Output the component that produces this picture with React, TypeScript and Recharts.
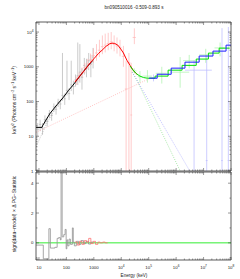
import type { ReactElement } from 'react'
import { ComposedChart, ErrorBar, Line, ReferenceLine, Scatter, XAxis, YAxis } from 'recharts'

const FONT = "'Liberation Sans Narrow', 'Liberation Sans', Arial, sans-serif"

// axis ranges
const X_DOMAIN = [7.8, 1e8]
const Y_DOMAIN = [1, 19500]
const R_DOMAIN = [-1.15, 4.75]

const X_MAJOR = [10, 100, 1000, 1e4, 1e5, 1e6, 1e7, 1e8]
const X_LABELS = ['10', '100', '1000', '10^4', '10^5', '10^6', '10^7', '10^8']
const Y_MAJOR = [1, 10, 100, 1000, 1e4]
const Y_LABELS = ['1', '10', '100', '1000', '10^4']
const R_MAJOR = [0, 2, 4]
const R_LABELS = ['0', '2', '4']
const R_MINOR = [-1, 1, 3]

// NaI data (keV, keV2 N(E))
const NAI_E = [9, 11, 13.5, 16.5, 20, 24, 29, 35, 42, 50, 60, 72, 87, 105, 125, 150, 180, 215, 260, 310, 370, 450, 540, 650, 780, 940]
const NAI_ELO = [8.2, 10, 12.2, 15, 18, 22, 26.5, 32, 38, 46, 55, 66, 80, 95, 115, 137, 165, 198, 235, 285, 340, 410, 490, 590, 710, 860]
const NAI_EHI = [10, 12.2, 15, 18, 22, 26.5, 32, 38, 46, 55, 66, 80, 95, 115, 137, 165, 198, 235, 285, 340, 410, 490, 590, 710, 860, 1000]
const NAI_V = [16, 22, 17, 30, 27, 45, 40, 70, 60, 95, 85, 150, 120, 210, 170, 300, 270, 420, 550, 700, 500, 1100, 1000, 1500, 1200, 1900]
const NAI_VLO = [10, 14, 11, 22, 19, 33, 28, 52, 42, 70, 60, 105, 80, 150, 110, 200, 160, 270, 300, 350, 220, 600, 500, 800, 500, 900]
const NAI_VHI = [24, 30, 24, 40, 36, 57, 52, 88, 78, 120, 115, 2500, 170, 1500, 240, 1500, 400, 600, 5000, 4500, 900, 1800, 1700, 2500, 2200, 3500]

// BGO data
const BGO_E = [230, 290, 370, 470, 600, 760, 970, 1250, 1600, 2050, 2600, 3350, 4300, 5500, 7000, 9000, 12000, 15000, 19000, 23000, 30000]
const BGO_ELO = [205, 260, 330, 420, 530, 680, 860, 1100, 1400, 1800, 2300, 2950, 3800, 4900, 6200, 8000, 10500, 13500, 16500, 21500, 26000]
const BGO_EHI = [260, 330, 420, 530, 680, 860, 1100, 1400, 1800, 2300, 2950, 3800, 4900, 6200, 8000, 10500, 13500, 16500, 21500, 25000, 34000]
const BGO_V = [400, 520, 700, 950, 1200, 1600, 2100, 2500, 3000, 3800, 4200, 4700, 5200, 4400, 4000, 3500, 2000, 230, 1300, 41, 7000]
const BGO_VLO = [300, 380, 500, 650, 850, 1100, 1300, 1500, 1900, 2300, 2600, 3000, 3200, 2800, 2400, 2000, 1000, 1.01, 1.01, 1.01, 4500]
const BGO_VHI = [520, 680, 950, 1300, 1700, 2400, 3400, 4500, 6000, 8000, 9000, 9500, 10000, 8000, 7000, 6000, 4000, 1500, 2500, 1300, 12800]

// LAT LLE data
const LLE_E = [30000, 48000, 90000, 300000, 1.4e6, 3e6, 1.2e7, 4e7]
const LLE_ELO = [26000, 40000, 60000, 180000, 6e5, 1.8e6, 7e6, 2.5e7]
const LLE_EHI = [36000, 56000, 130000, 450000, 3e6, 5e6, 2e7, 6e7]
const LLE_V = [760, 520, 540, 650, 700, 1500, 2200, 3500]
const LLE_VLO = [650, 350, 350, 330, 250, 900, 1300, 2000]
const LLE_VHI = [900, 750, 800, 1000, 1900, 2200, 3300, 5000]

// LAT data
const LAT_E = [150000, 4.5e6, 1.3e7, 4.7e7, 8e7]
const LAT_ELO = [110000, 2.1e6, 1.2e7, 4.4e7, 7.6e7]
const LAT_EHI = [200000, 2e7, 1.4e7, 5e7, 8.4e7]
const LAT_V = [480, 800, 2, 2, 2]
const LAT_VLO = [380, 1.01, 1.01, 1.01, 1.01]
const LAT_VHI = [600, 1550, 2200, 13000, 14000]

// folded models
const NAI_MODEL_E = [7.8, 12.9, 13.5, 25, 45, 75, 120, 174, 250, 400, 600, 900]
const NAI_MODEL_V = [18, 18, 20, 45, 80, 128, 210, 296, 430, 700, 1050, 1500]
const BGO_MODEL_E = [205, 300, 450, 725, 1000, 1500, 2000, 2800, 3800, 4600, 5800, 7500, 9100, 12000, 16000, 21000, 27000, 35000, 40000]
const BGO_MODEL_V = [365, 530, 780, 1280, 1700, 2450, 3000, 3900, 4600, 4800, 4700, 4200, 3450, 2500, 1550, 1100, 800, 640, 590]
const LLE_MODEL_E = [21000, 27000, 35000, 48000, 65000, 90000, 113000]
const LLE_MODEL_V = [1050, 800, 640, 540, 490, 470, 470]
const LLE_STEP_E = [113000, 171000, 510000, 1.65e6, 5.4e6, 1.5e7, 3.7e7, 9e7]
const LLE_STEP_V = [470, 540, 800, 1100, 1670, 2480, 3450, 3450]
const LAT_STEP_E = [102000, 204000, 660000, 2.1e6, 6.9e6, 2.2e7, 6.6e7, 1e8]
const LAT_STEP_V = [470, 610, 915, 1360, 2040, 2830, 4200, 4200]

// model components
const PL_E = [7.8, 113000]
const PL_V = [13, 470]
const BAND_LO_E = [7.8, 20, 50, 100]
const BAND_LO_V = [5, 25, 85, 170]
const BAND_HI_G_E = [25000, 37000, 1.5e6]
const BAND_HI_G_V = [700, 415, 0.9]
const BAND_HI_B_E = [25000, 37000, 3.4e6]
const BAND_HI_B_V = [700, 415, 0.9]

// residuals
const RES_NAI_E = [7.8, 14.4, 23, 26, 38, 46, 52, 60, 64, 70, 80, 90, 98, 104, 112, 125, 140, 165, 178, 195, 230, 280, 340, 420, 520, 640, 780, 950]
const RES_NAI_R = [-0.15, -1.07, 0.95, -0.35, -0.3, 0.3, 0.35, 0.2, 4.7, 0.4, 0.55, 0.9, -0.4, 0.2, -0.2, 0.25, -0.1, 1.0, 0.05, -0.2, 0.1, -0.1, 0.15, -0.05, 0.1, -0.08, 0.05, 0.05]
const RES_BGO_E = [205, 250, 300, 370, 450, 540, 650, 780, 950, 1150, 1400, 1700, 2100, 2600, 3200]
const RES_BGO_R = [0.05, -0.15, 0.1, -0.1, 0.15, 0.05, 0.3, -0.05, 0.1, -0.1, 0.05, 0, 0.05, 0, 0]

const toRows = (e: number[], v: number[]) => e.map((x, i) => ({ e: x, v: v[i] }))
const toPoints = (e: number[], elo: number[], ehi: number[], v: number[], vlo: number[], vhi: number[]) =>
	e.map((x, i) => ({ e: x, v: v[i], ex: [x - elo[i], ehi[i] - x], ey: [v[i] - vlo[i], vhi[i] - v[i]] }))

const logMinors = (lo: number, hi: number): number[] => {
	const out: number[] = []
	for (let k = Math.floor(Math.log10(lo)); k <= Math.ceil(Math.log10(hi)); k++) {
		for (let m = 2; m <= 9; m++) {
			const t = m * 10 ** k
			if (t > lo && t < hi) out.push(t)
		}
	}
	return out
}

const X_TICKS = [...X_MAJOR, ...logMinors(X_DOMAIN[0], X_DOMAIN[1])].sort((a, b) => a - b)
const Y_TICKS = [...Y_MAJOR, ...logMinors(Y_DOMAIN[0], Y_DOMAIN[1])].sort((a, b) => a - b)
const R_TICKS = [...R_MAJOR, ...R_MINOR].sort((a, b) => a - b)

const tickText = (label: string, x: number, y: number, anchor: 'middle' | 'end') => {
	const [base, exp] = label.split('^')
	return (
		<text x={x} y={y} textAnchor={anchor} fontSize={4.4} fontFamily={FONT} fill='#222'>
			{base}
			{exp ? <tspan dy={-1.8} fontSize={3.2}>{exp}</tspan> : null}
		</text>
	)
}

const makeXTick = (inward: 1 | -1, majors: number[], labels: string[] | null) =>
	(props: any): ReactElement => {
		const { x, y, payload } = props
		const i = majors.indexOf(payload.value)
		const len = i >= 0 ? 3 : 1.5
		return (
			<g>
				<line x1={x} x2={x} y1={y} y2={y + inward * len} stroke='#333' strokeWidth={0.5} />
				{labels && i >= 0 ? tickText(labels[i], x, y + 8.5, 'middle') : null}
			</g>
		)
	}

const makeYTick = (inward: 1 | -1, majors: number[], labels: string[] | null) =>
	(props: any): ReactElement => {
		const { x, y, payload } = props
		const i = majors.indexOf(payload.value)
		const len = i >= 0 ? 3 : 1.5
		return (
			<g>
				<line x1={x} x2={x + inward * len} y1={y} y2={y} stroke='#333' strokeWidth={0.5} />
				{labels && i >= 0 ? tickText(labels[i], x - 2.5, y + 1.6, 'end') : null}
			</g>
		)
	}

const noShape = (): ReactElement => <g />

const axisLine = { stroke: '#333', strokeWidth: 0.8 }

const dataSeries = [
	{ rows: toPoints(NAI_E, NAI_ELO, NAI_EHI, NAI_V, NAI_VLO, NAI_VHI), color: '#b4b4b4' },
	{ rows: toPoints(BGO_E, BGO_ELO, BGO_EHI, BGO_V, BGO_VLO, BGO_VHI), color: '#ffb4b4' },
	{ rows: toPoints(LLE_E, LLE_ELO, LLE_EHI, LLE_V, LLE_VLO, LLE_VHI), color: '#a8f0a8' },
	{ rows: toPoints(LAT_E, LAT_ELO, LAT_EHI, LAT_V, LAT_VLO, LAT_VHI), color: '#b8b8ff' }
]

const SpectrumPanel = (): ReactElement => (
	<ComposedChart width={240} height={180} margin={{ top: 21, right: 8, bottom: 8, left: 35 }}>
		<XAxis xAxisId={0} dataKey='e' type='number' scale='log' domain={X_DOMAIN} allowDataOverflow ticks={X_TICKS} interval={0}
			height={1} tickSize={0} tickMargin={0} tickLine={false} axisLine={axisLine} tick={makeXTick(-1, X_MAJOR, null)} />
		<XAxis xAxisId='top' orientation='top' dataKey='e' type='number' scale='log' domain={X_DOMAIN} allowDataOverflow ticks={X_TICKS} interval={0}
			height={1} tickSize={0} tickMargin={0} tickLine={false} axisLine={axisLine} tick={makeXTick(1, X_MAJOR, null)} />
		<YAxis yAxisId={0} dataKey='v' type='number' scale='log' domain={Y_DOMAIN} allowDataOverflow ticks={Y_TICKS} interval={0}
			width={1} tickSize={0} tickMargin={0} tickLine={false} axisLine={axisLine} tick={makeYTick(1, Y_MAJOR, Y_LABELS)} />
		<YAxis yAxisId='right' orientation='right' type='number' scale='log' domain={Y_DOMAIN} allowDataOverflow ticks={Y_TICKS} interval={0}
			width={1} tickSize={0} tickMargin={0} tickLine={false} axisLine={axisLine} tick={makeYTick(-1, Y_MAJOR, null)} />
		{dataSeries.map((s, i) => (
			<Scatter key={`d-${i}`} data={s.rows} dataKey='v' shape={noShape} isAnimationActive={false}>
				<ErrorBar dataKey='ex' direction='x' width={0} stroke={s.color} strokeWidth={0.7} />
				<ErrorBar dataKey='ey' direction='y' width={0} stroke={s.color} strokeWidth={0.7} />
			</Scatter>
		))}
		<Line data={toRows(PL_E, PL_V)} dataKey='v' stroke='#ff9c9c' strokeWidth={0.6} strokeDasharray='1 1.3' dot={false} activeDot={false} isAnimationActive={false} />
		<Line data={toRows(BAND_LO_E, BAND_LO_V)} dataKey='v' stroke='#a0a0a0' strokeWidth={0.6} strokeDasharray='1 1.3' dot={false} activeDot={false} isAnimationActive={false} />
		<Line data={toRows(BAND_HI_G_E, BAND_HI_G_V)} dataKey='v' stroke='#70d870' strokeWidth={0.6} strokeDasharray='1 1.3' dot={false} activeDot={false} isAnimationActive={false} />
		<Line data={toRows(BAND_HI_B_E, BAND_HI_B_V)} dataKey='v' stroke='#9090ff' strokeWidth={0.6} strokeDasharray='1 1.3' dot={false} activeDot={false} isAnimationActive={false} />
		<Line data={toRows(NAI_MODEL_E, NAI_MODEL_V)} dataKey='v' stroke='#000000' strokeWidth={1} dot={false} activeDot={false} isAnimationActive={false} />
		<Line data={toRows(BGO_MODEL_E, BGO_MODEL_V)} dataKey='v' stroke='#ff0000' strokeWidth={1} dot={false} activeDot={false} isAnimationActive={false} />
		<Line data={toRows(LLE_MODEL_E, LLE_MODEL_V)} dataKey='v' stroke='#00e000' strokeWidth={1} dot={false} activeDot={false} isAnimationActive={false} />
		<Line data={toRows(LLE_STEP_E, LLE_STEP_V)} dataKey='v' type='stepAfter' stroke='#00e000' strokeWidth={1} dot={false} activeDot={false} isAnimationActive={false} />
		<Line data={toRows(LAT_STEP_E, LAT_STEP_V)} dataKey='v' type='stepAfter' stroke='#2020ff' strokeWidth={1} dot={false} activeDot={false} isAnimationActive={false} />
	</ComposedChart>
)

const ResidualPanel = (): ReactElement => (
	<ComposedChart width={240} height={119} margin={{ top: 10, right: 8, bottom: 19, left: 35 }}>
		<XAxis xAxisId={0} dataKey='e' type='number' scale='log' domain={X_DOMAIN} allowDataOverflow ticks={X_TICKS} interval={0}
			height={1} tickSize={0} tickMargin={0} tickLine={false} axisLine={axisLine} tick={makeXTick(-1, X_MAJOR, X_LABELS)} />
		<XAxis xAxisId='top' orientation='top' dataKey='e' type='number' scale='log' domain={X_DOMAIN} allowDataOverflow ticks={X_TICKS} interval={0}
			height={1} tickSize={0} tickMargin={0} tickLine={false} axisLine={axisLine} tick={makeXTick(1, X_MAJOR, null)} />
		<YAxis yAxisId={0} dataKey='v' type='number' domain={R_DOMAIN} allowDataOverflow ticks={R_TICKS} interval={0}
			width={1} tickSize={0} tickMargin={0} tickLine={false} axisLine={axisLine} tick={makeYTick(1, R_MAJOR, R_LABELS)} />
		<YAxis yAxisId='right' orientation='right' type='number' domain={R_DOMAIN} allowDataOverflow ticks={R_TICKS} interval={0}
			width={1} tickSize={0} tickMargin={0} tickLine={false} axisLine={axisLine} tick={makeYTick(-1, R_MAJOR, null)} />
		<ReferenceLine y={0} stroke='#33ee33' strokeWidth={1} />
		<Line data={toRows(RES_NAI_E, RES_NAI_R)} dataKey='v' type='stepAfter' stroke='#909090' strokeWidth={0.8} dot={false} activeDot={false} isAnimationActive={false} />
		<Line data={toRows(RES_BGO_E, RES_BGO_R)} dataKey='v' type='stepAfter' stroke='#ff7070' strokeWidth={0.8} dot={false} activeDot={false} isAnimationActive={false} />
	</ComposedChart>
)

const App = (): ReactElement => (
	<div style={{ position: 'absolute', left: 0, top: 0, width: 240, height: 279, background: '#fff' }}>
		<div style={{ position: 'absolute', left: 0, top: 0 }}>
			<SpectrumPanel />
		</div>
		<div style={{ position: 'absolute', left: 0, top: 161 }}>
			<ResidualPanel />
		</div>
		<svg width={240} height={279} style={{ position: 'absolute', left: 0, top: 0, pointerEvents: 'none' }}>
			<text x={134} y={9} textAnchor='middle' fontSize={4.6} fontFamily={FONT} fill='#222'>bn090510016 -0.509-0.893 s</text>
			<text x={134} y={277} textAnchor='middle' fontSize={4.6} fontFamily={FONT} fill='#222'>Energy (keV)</text>
			<text transform='translate(15.5,100) rotate(-90)' textAnchor='middle' fontSize={5} fontFamily={FONT} fill='#222'>
				keV<tspan dy={-1.8} fontSize={3.5}>2</tspan>
				<tspan dy={1.8}> (Photons cm</tspan><tspan dy={-1.8} fontSize={3.5}>−2</tspan>
				<tspan dy={1.8}> s</tspan><tspan dy={-1.8} fontSize={3.5}>−1</tspan>
				<tspan dy={1.8}> keV</tspan><tspan dy={-1.8} fontSize={3.5}>−1</tspan>
				<tspan dy={1.8}>)</tspan>
			</text>
			<text transform='translate(15.5,214) rotate(-90)' textAnchor='middle' fontSize={5} fontFamily={FONT} fill='#222'>
				sign(data−model) × Δ PG−Statistic
			</text>
		</svg>
	</div>
)

export default App
